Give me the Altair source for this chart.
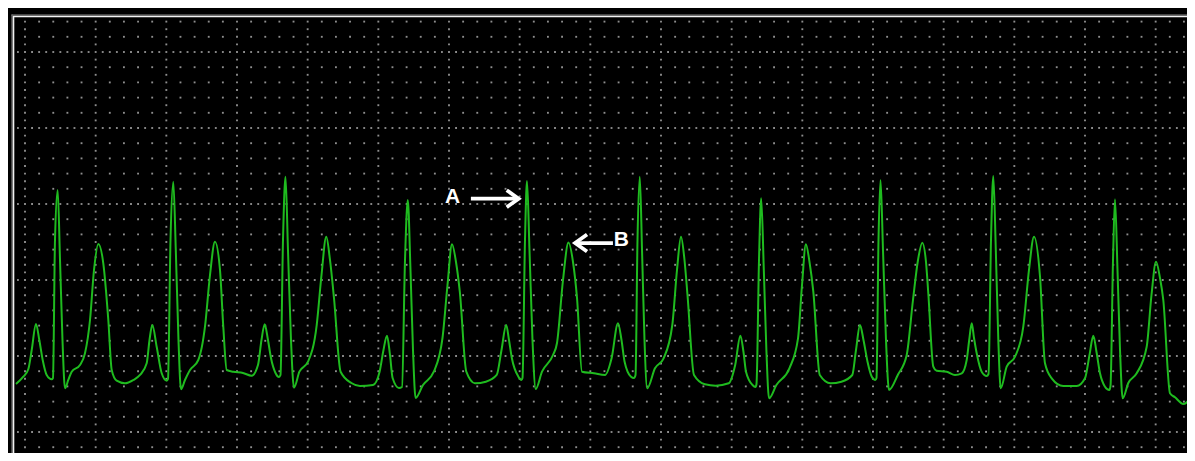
import altair as alt
import pandas as pd

# ---------------- ECG trace (time in s, amplitude in mV) ----------------
ecg_t = [
    -0.0255, -0.0048, 0.0093, 0.019, 0.0311, 0.0405, 0.0501, 0.0614, 0.0756, 0.0792,
    0.0849, 0.0925, 0.0991, 0.1061, 0.1132, 0.1225, 0.1322, 0.1557, 0.1698, 0.184,
    0.1953, 0.2075, 0.2216, 0.2358, 0.2454, 0.2595, 0.283, 0.3065, 0.3255, 0.3444,
    0.3524, 0.3603, 0.3727, 0.3869, 0.401, 0.4047, 0.4118, 0.4197, 0.4268, 0.4344,
    0.4415, 0.4528, 0.467, 0.4905, 0.5094, 0.5236, 0.5377, 0.5519, 0.5612, 0.5709,
    0.5895, 0.617, 0.6416, 0.6594, 0.6693, 0.6784, 0.6877, 0.6962, 0.709, 0.7189,
    0.7231, 0.7302, 0.7373, 0.7443, 0.7528, 0.7613, 0.7766, 0.801, 0.8256, 0.8392,
    0.8527, 0.8632, 0.8745, 0.8932, 0.9238, 0.9481, 0.9849, 1.0036, 1.0146, 1.0245,
    1.033, 1.0404, 1.0585, 1.067, 1.0755, 1.0834, 1.091, 1.0981, 1.1055, 1.1264,
    1.157, 1.1816, 1.1958, 1.2085, 1.2198, 1.2306, 1.249, 1.2736, 1.3044, 1.335,
    1.3486, 1.3619, 1.3698, 1.378, 1.3964, 1.4049, 1.408, 1.4151, 1.4208, 1.4278,
    1.4363, 1.4454, 1.4632, 1.4944, 1.5057, 1.5227, 1.5382, 1.551, 1.5623, 1.5764,
    1.6104, 1.6415, 1.6602, 1.6783, 1.6882, 1.697, 1.7151, 1.7236, 1.7279, 1.7335,
    1.74, 1.7463, 1.7533, 1.761, 1.783, 1.8074, 1.832, 1.8453, 1.8566, 1.8665,
    1.875, 1.8934, 1.9243, 1.9548, 1.9916, 2.01, 2.0247, 2.0335, 2.0406, 2.059,
    2.0675, 2.0703, 2.0774, 2.0836, 2.091, 2.0983, 2.1057, 2.1266, 2.1634, 2.1878,
    2.1991, 2.2101, 2.2203, 2.2311, 2.2494, 2.28, 2.3106, 2.3414, 2.3519, 2.3632,
    2.3731, 2.3845, 2.3966, 2.4066, 2.4099, 2.4156, 2.4213, 2.4283, 2.4368, 2.4453,
    2.4702, 2.4954, 2.5132, 2.5274, 2.5395, 2.55, 2.5565, 2.5707, 2.5803, 2.6086,
    2.6321, 2.6511, 2.6652, 2.6723, 2.6794, 2.6859, 2.6935, 2.7076, 2.7218, 2.7269,
    2.734, 2.7405, 2.7476, 2.7547, 2.7615, 2.7784, 2.8019, 2.8254, 2.8415, 2.8557,
    2.8727, 2.8868, 2.9058, 2.9386, 2.9766, 3.0, 3.0128, 3.0235, 3.0326, 3.0425,
    3.0566, 3.0688, 3.0722, 3.0793, 3.0849, 3.092, 3.0991, 3.1067, 3.1226, 3.1463,
    3.1746, 3.1882, 3.201, 3.2123, 3.2216, 3.2406, 3.2547, 3.2782, 3.3113,
]
ecg_mv = [
    0.3158, 0.3638, 0.4125, 0.5395, 0.7105, 0.6053, 0.4737, 0.375, 0.3467, 0.3553,
    1.2632, 1.5921, 1.1316, 0.6053, 0.2875, 0.3421, 0.3967, 0.4408, 0.5178, 0.7368,
    1.0658, 1.2368, 1.1099, 0.7368, 0.4079, 0.3375, 0.3204, 0.3421, 0.375, 0.452,
    0.6053, 0.7039, 0.5612, 0.3862, 0.3375, 0.3487, 1.2632, 1.6467, 1.1974, 0.6053,
    0.2809, 0.3421, 0.4079, 0.4737, 0.6928, 1.0329, 1.252, 1.0658, 0.6928, 0.4079,
    0.3967, 0.3882, 0.3704, 0.4408, 0.6053, 0.7086, 0.6053, 0.4868, 0.3882, 0.3618,
    0.375, 1.2632, 1.6796, 1.1974, 0.6053, 0.2914, 0.3967, 0.4625, 0.7039, 1.0329,
    1.2849, 1.1316, 0.8816, 0.3967, 0.3224, 0.3026, 0.3092, 0.3967, 0.5395, 0.6336,
    0.5066, 0.3553, 0.2895, 0.2961, 1.1316, 1.5263, 1.0658, 0.5395, 0.2237, 0.3092,
    0.3967, 0.6184, 0.9671, 1.2349, 1.1184, 0.923, 0.3967, 0.3204, 0.3309, 0.375,
    0.5395, 0.7039, 0.6053, 0.4849, 0.3638, 0.3421, 0.3553, 1.2632, 1.6513, 1.1974,
    0.6053, 0.2829, 0.3967, 0.5066, 0.5855, 1.0, 1.2467, 1.1184, 0.8816, 0.3967,
    0.3862, 0.375, 0.4849, 0.7151, 0.6053, 0.4625, 0.3638, 0.3553, 0.375, 1.2632,
    1.6796, 1.1974, 0.6053, 0.2875, 0.4191, 0.4849, 0.7039, 1.0658, 1.2849, 1.1316,
    0.9013, 0.375, 0.3138, 0.3046, 0.3204, 0.4408, 0.6336, 0.5263, 0.3967, 0.3092,
    0.2961, 0.3158, 1.1316, 1.5375, 1.0658, 0.5395, 0.2217, 0.3092, 0.4191, 0.6164,
    0.9671, 1.2349, 1.1184, 0.923, 0.375, 0.3204, 0.3309, 0.375, 0.5395, 0.7039,
    0.6053, 0.4625, 0.3638, 0.3421, 0.3553, 1.2632, 1.6579, 1.1974, 0.6053, 0.2763,
    0.375, 0.5066, 0.8684, 1.1316, 1.2454, 1.1184, 0.9145, 0.4296, 0.4033, 0.3967,
    0.375, 0.3862, 0.4737, 0.6053, 0.7151, 0.6184, 0.5178, 0.3967, 0.3684, 0.3816,
    1.2632, 1.6842, 1.1974, 0.6053, 0.2875, 0.4296, 0.4954, 0.6928, 1.0658, 1.2849,
    1.0217, 0.452, 0.3533, 0.3026, 0.3026, 0.3533, 0.5066, 0.6336, 0.5263, 0.3862,
    0.298, 0.2763, 0.3026, 1.1316, 1.5309, 1.0658, 0.5395, 0.2217, 0.3224, 0.3862,
    0.5612, 0.9013, 1.1204, 1.0132, 0.8684, 0.2546, 0.2283, 0.1842, 0.2763,
]

# ---------------- ECG paper grid (0.04 s x 0.1 mV small boxes, 0.2 s x 0.5 mV large) ----------------
minor_t = [round(0.04 * k, 2) for k in range(0, 83)]
minor_mv = [round(0.1 * j, 1) for j in range(-1, 28)]
major_t = [round(0.2 * k, 1) for k in range(0, 17)]
major_mv = [0.0, 0.5, 1.0, 1.5, 2.0, 2.5]
fine_t = [round(0.02 * m, 2) for m in range(-1, 166)]
fine_mv = [round(0.05 * n, 2) for n in range(-3, 55)]

# ---------------- annotations ----------------
label_text = ["A", "B"]
label_t = [1.21, 1.688]
label_mv = [1.548, 1.263]
arrow_t_from = [1.262, 1.664]
arrow_t_to = [1.397, 1.557]
arrow_mv = [1.535, 1.243]
arrow_dir = ["right", "left"]

T_DOMAIN = [-0.0481, 3.2887]
MV_DOMAIN = [-0.1382, 2.7895]

xs = alt.Scale(domain=T_DOMAIN, nice=False, zero=False)
ys = alt.Scale(domain=MV_DOMAIN, nice=False, zero=False)

ecg_df = pd.DataFrame({"i": range(len(ecg_t)), "t": ecg_t, "mv": ecg_mv})

pts = set()
for t in minor_t:
    for v in minor_mv:
        pts.add((t, v))
for v in major_mv:
    for t in fine_t:
        pts.add((t, v))
for t in major_t:
    for v in fine_mv:
        pts.add((t, v))
grid_df = pd.DataFrame(sorted(pts), columns=["t", "mv"])

grid = alt.Chart(grid_df).mark_square(size=3.5, color="#8e8e8e", opacity=1, clip=True).encode(
    x=alt.X("t:Q", scale=xs, axis=None),
    y=alt.Y("mv:Q", scale=ys, axis=None),
)

one = pd.DataFrame({"k": [0]})
frame_v_dark = alt.Chart(one).mark_rule(color="#8a8a8a", strokeWidth=1).encode(
    x=alt.value(4), y=alt.value(6.5), y2=alt.value(445))
frame_v_light = alt.Chart(one).mark_rule(color="#f2f2f2", strokeWidth=1.6).encode(
    x=alt.value(5.5), y=alt.value(8), y2=alt.value(445))
frame_h_dark = alt.Chart(one).mark_rule(color="#8a8a8a", strokeWidth=1).encode(
    y=alt.value(7), x=alt.value(3.5), x2=alt.value(1179))
frame_h_light = alt.Chart(one).mark_rule(color="#f2f2f2", strokeWidth=1.6).encode(
    y=alt.value(8.5), x=alt.value(5), x2=alt.value(1179))

trace = alt.Chart(ecg_df).mark_line(
    color="#1fbb1f", strokeWidth=2, interpolate="monotone", clip=True
).encode(
    x=alt.X("t:Q", scale=xs, axis=None),
    y=alt.Y("mv:Q", scale=ys, axis=None),
    order="i:Q",
)

arr_df = pd.DataFrame({"t0": arrow_t_from, "t1": arrow_t_to, "mv": arrow_mv, "dir": arrow_dir})
shaft = alt.Chart(arr_df).mark_rule(color="white", strokeWidth=3.8).encode(
    x=alt.X("t0:Q", scale=xs, axis=None),
    x2="t1:Q",
    y=alt.Y("mv:Q", scale=ys, axis=None),
)
head = alt.Chart(arr_df).mark_point(
    filled=False, color="white", strokeWidth=3.8, size=289, opacity=1
).encode(
    x=alt.X("t1:Q", scale=xs, axis=None),
    y=alt.Y("mv:Q", scale=ys, axis=None),
    shape=alt.Shape(
        "dir:N",
        scale=alt.Scale(domain=["right", "left"],
                        range=["M-1.4,-1L0,0L-1.4,1", "M1.4,-1L0,0L1.4,1"]),
        legend=None,
    ),
)

lab_df = pd.DataFrame({"t": label_t, "mv": label_mv, "txt": label_text})
labels = alt.Chart(lab_df).mark_text(
    color="white", font="Liberation Sans", fontSize=21, fontWeight="bold",
    align="center", baseline="middle",
).encode(
    x=alt.X("t:Q", scale=xs, axis=None),
    y=alt.Y("mv:Q", scale=ys, axis=None),
    text="txt:N",
)

chart = alt.layer(
    grid, frame_v_dark, frame_v_light, frame_h_dark, frame_h_light,
    trace, shaft, head, labels,
).properties(
    width=1179, height=445, background="black", padding=0,
    autosize=alt.AutoSizeParams(type="none"),
).configure_view(strokeWidth=0, fill="black")

chart.save("out.html", embed_options={"renderer": "svg", "actions": False})
